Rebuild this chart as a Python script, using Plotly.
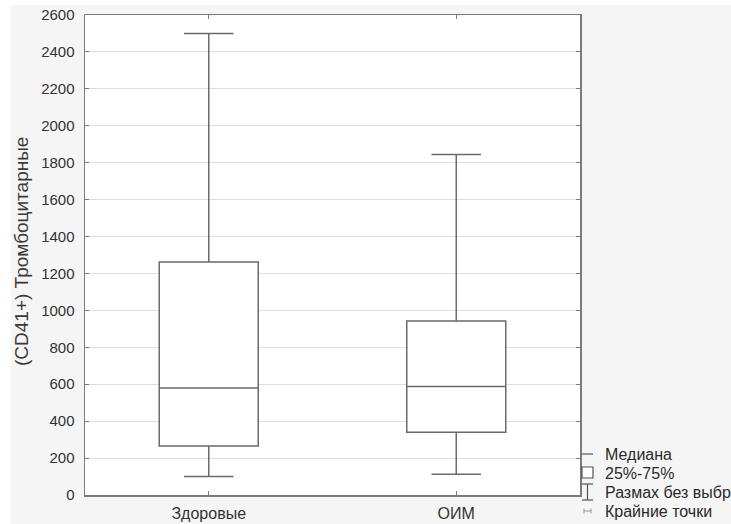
import plotly.graph_objects as go

categories = ["Здоровые", "ОИМ"]
lower_whisker = [100, 112]
q1_values = [266, 340]
median_values = [580, 588]
q3_values = [1262, 943]
upper_whisker = [2500, 1845]

y_title = "(CD41+) Тромбоцитарные"
legend_labels = ["Медиана", "25%-75%", "Размах без выбр", "Крайние точки"]

line_col = "#6a6a6a"
frame_col = "#7a7a7a"
font_family = "Liberation Sans, Arial, sans-serif"

W, H = 731, 524
ml, mr, mt, mb = 85, 151, 15, 29
pw, ph = W - ml - mr, H - mt - mb


def px(xp):
    return (xp - ml) / pw


def py(yp):
    return (H - mb - yp) / ph


fig = go.Figure()
fig.add_trace(go.Box(
    x=categories,
    q1=q1_values,
    median=median_values,
    q3=q3_values,
    lowerfence=lower_whisker,
    upperfence=upper_whisker,
    boxpoints=False,
    width=0.4,
    whiskerwidth=0.5,
    fillcolor="white",
    line=dict(color=line_col, width=1.5),
    hoverinfo="skip",
    showlegend=False,
))

shapes = []
shapes.append(dict(type="rect", xref="paper", yref="paper", layer="below",
                   x0=px(11), x1=px(W + 5), y0=py(H + 5), y1=py(5),
                   fillcolor="#f5f5f5", line=dict(width=0)))
shapes.append(dict(type="rect", xref="paper", yref="paper", layer="below",
                   x0=0, x1=1, y0=0, y1=1,
                   fillcolor="white", line=dict(width=0)))

lc = "#555555"
shapes.append(dict(type="line", xref="paper", yref="paper",
                   x0=px(582), x1=px(593), y0=py(454), y1=py(454),
                   line=dict(color=lc, width=1.2)))
shapes.append(dict(type="rect", xref="paper", yref="paper",
                   x0=px(582), x1=px(593), y0=py(478), y1=py(467),
                   line=dict(color=lc, width=1.2), fillcolor="white"))
shapes.append(dict(type="line", xref="paper", yref="paper",
                   x0=px(587.5), x1=px(587.5), y0=py(484), y1=py(500),
                   line=dict(color=lc, width=1.2)))
shapes.append(dict(type="line", xref="paper", yref="paper",
                   x0=px(582), x1=px(593), y0=py(484), y1=py(484),
                   line=dict(color=lc, width=1.2)))
shapes.append(dict(type="line", xref="paper", yref="paper",
                   x0=px(582), x1=px(593), y0=py(500), y1=py(500),
                   line=dict(color=lc, width=1.2)))
ec = "#9a9a9a"
shapes.append(dict(type="line", xref="paper", yref="paper",
                   x0=px(584), x1=px(591), y0=py(511), y1=py(511),
                   line=dict(color=ec, width=1)))
shapes.append(dict(type="line", xref="paper", yref="paper",
                   x0=px(584), x1=px(584), y0=py(508.5), y1=py(513.5),
                   line=dict(color=ec, width=1)))
shapes.append(dict(type="line", xref="paper", yref="paper",
                   x0=px(591), x1=px(591), y0=py(508.5), y1=py(513.5),
                   line=dict(color=ec, width=1)))

annotations = []
leg_y = [454, 473, 492, 511]
for lab, yy in zip(legend_labels, leg_y):
    annotations.append(dict(xref="paper", yref="paper", x=px(603), y=py(yy),
                            text=lab, showarrow=False, xanchor="left",
                            yanchor="middle",
                            font=dict(family=font_family, size=16, color="#2a2a2a")))
annotations.append(dict(xref="paper", yref="paper", x=px(21), y=py(252),
                        text=y_title, showarrow=False, textangle=-90,
                        xanchor="center", yanchor="middle",
                        font=dict(family=font_family, size=19, color="#3a3a3a")))

fig.update_layout(
    width=W, height=H,
    margin=dict(l=ml, r=mr, t=mt, b=mb, autoexpand=False),
    paper_bgcolor="white",
    plot_bgcolor="white",
    font=dict(family=font_family, size=15, color="#333333"),
    shapes=shapes,
    annotations=annotations,
    xaxis=dict(
        type="category",
        range=[-0.5, 1.5],
        automargin=False,
        showline=True, linecolor=frame_col, linewidth=1.5, mirror="ticks",
        ticks="inside", ticklen=4, tickcolor=frame_col,
        showgrid=False, zeroline=False,
        tickfont=dict(size=16, color="#333333"),
        ticklabelstandoff=3,
    ),
    yaxis=dict(
        range=[0, 2600], dtick=200, tick0=0,
        automargin=False,
        showline=True, linecolor=frame_col, linewidth=1.5, mirror="ticks",
        ticks="inside", ticklen=4, tickcolor=frame_col,
        showgrid=True, gridcolor="#dedede", gridwidth=1,
        zeroline=False,
        tickfont=dict(size=15, color="#333333"),
        ticklabelstandoff=6,
    ),
)

fig.write_html(
    "out.html",
    config={"displayModeBar": False, "staticPlot": True},
    post_script="document.body.style.margin='0';document.body.style.overflow='hidden';",
)
